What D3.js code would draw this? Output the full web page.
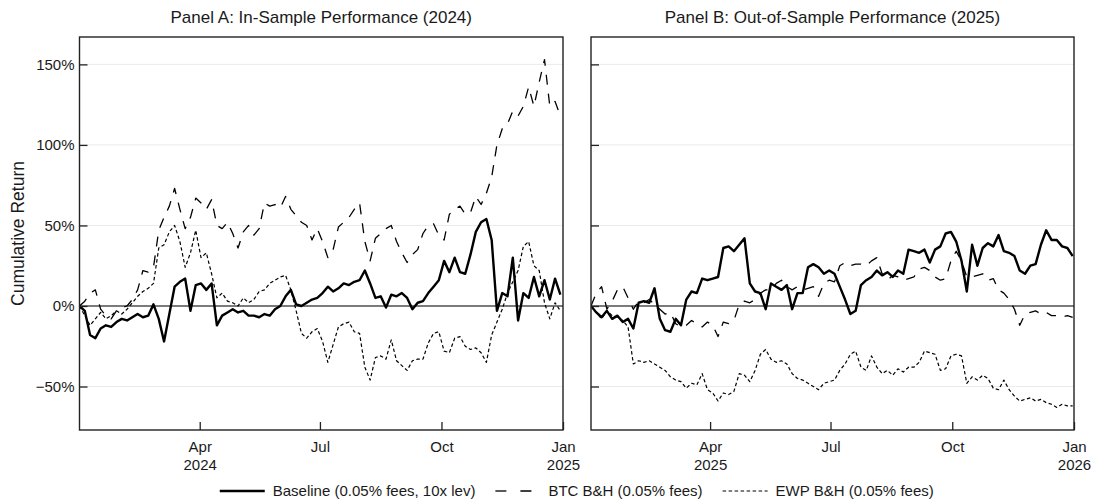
<!DOCTYPE html>
<html>
<head>
<meta charset="utf-8">
<script src="https://cdn.jsdelivr.net/npm/d3@7.9.0/dist/d3.min.js"></script>
<style>
  body { margin: 0; background: #fff; }
  svg text { font-family: "Liberation Sans", Arial, sans-serif; fill: #1a1a1a; }
</style>
</head>
<body>
<svg id="chart" width="1094" height="502"></svg>
<script>
// cumulative return (%) sampled every 4 days from Jan 1
const stepDays = 4;

const baseA = [0,-3,-18,-20,-14,-12,-13,-10,-8,-9,
  -7,-5,-7,-6,1,-8,-22,-5,12,15,
  17,-3,13,14,10,14,-12,-6,-4,-2,
  -4,-3,-6,-6,-7,-5,-6,-2,0,6,
  10,1,0,2,4,5,8,12,9,11,
  14,13,15,16,22,14,5,6,-1,7,
  6,8,5,-2,2,3,8,12,16,28,
  21,30,21,20,32,46,52,54,41,-3,
  8,6,30,-9,8,5,18,6,16,4,
  17,7];
const btcA = [0,3,8,10,-2,-6,-8,-3,-1,0,
  4,10,22,21,24,47,55,62,73,60,
  48,55,67,64,60,66,50,48,52,45,
  36,46,50,44,48,64,62,63,61,68,
  60,56,52,50,41,48,40,30,35,49,
  52,55,60,64,40,28,42,45,48,50,
  40,33,27,32,35,45,50,51,44,41,
  57,60,62,57,58,68,63,70,80,100,
  110,113,121,118,124,136,124,139,153,124,
  127,118];
const ewpA = [0,-6,-12,-8,-4,-8,-6,-3,-5,-2,
  2,6,9,11,14,36,38,46,50,40,
  24,33,47,30,33,20,5,8,3,2,
  0,5,2,4,9,10,14,16,18,19,
  10,-3,-17,-20,-16,-14,-22,-35,-24,-13,
  -11,-10,-16,-17,-38,-46,-32,-31,-33,-21,
  -34,-37,-40,-34,-33,-33,-23,-17,-16,-28,
  -29,-20,-19,-25,-27,-26,-29,-35,-18,-10,
  -2,8,15,22,37,40,25,22,2,-8,
  2,-3];

const baseB = [0,-4,-7,-3,-8,-6,-10,-8,-14,2,
  3,2,11,-8,-15,-16,-8,-12,4,9,
  8,17,16,17,18,36,37,34,38,42,
  14,9,8,-2,14,12,10,13,-2,8,
  8,24,26,24,20,22,20,12,4,-5,
  -3,13,16,18,22,19,21,18,22,20,
  35,34,33,35,27,35,37,45,46,40,
  28,9,38,25,36,39,37,44,34,33,
  31,22,20,25,26,38,47,41,41,37,
  36,31];
const btcB = [0,8,12,-2,3,10,12,5,-2,3,
  2,4,1,-2,-5,-4,-11,-13,-12,-9,
  -11,-13,-10,-12,-19,-10,-11,-9,1,3,
  2,4,8,10,10,14,16,12,10,12,
  10,11,12,6,14,16,15,25,27,25,
  26,26,25,28,30,20,16,19,18,16,
  17,18,23,24,22,18,16,17,28,34,
  28,18,18,19,20,16,17,10,8,4,
  -2,-12,-5,-4,-3,-5,-4,-6,-6,-7,
  -6,-7];
const ewpB = [0,-4,-8,-3,-6,-7,-9,-13,-36,-34,
  -35,-34,-36,-38,-40,-44,-46,-47,-51,-48,
  -49,-42,-52,-54,-59,-54,-55,-53,-42,-43,
  -47,-40,-30,-27,-33,-35,-34,-36,-42,-45,
  -46,-48,-50,-52,-48,-47,-46,-40,-36,-30,
  -28,-38,-40,-31,-38,-42,-40,-43,-39,-41,
  -38,-38,-35,-28,-29,-30,-40,-39,-31,-30,
  -31,-48,-44,-46,-43,-45,-51,-52,-46,-52,
  -56,-59,-58,-57,-59,-58,-60,-61,-63,-61,
  -62,-62];

const seriesNames = ['Baseline (0.05% fees, 10x lev)', 'BTC B&H (0.05% fees)', 'EWP B&H (0.05% fees)'];
const yTicks = [-50, 0, 50, 100, 150];
const panelTitles = ['Panel A: In-Sample Performance (2024)', 'Panel B: Out-of-Sample Performance (2025)'];
const panelYears = [2024, 2025];

// line styles per series
const styles = [
  { width: 2.4, dash: null },
  { width: 1.3, dash: '10,9' },
  { width: 1.2, dash: '3.5,2.5' }
];

const svg = d3.select('#chart');
const plotTop = 37, plotBottom = 430;
const panels = [
  { x0: 79.5, x1: 563, data: [baseA, btcA, ewpA], labels: true },
  { x0: 591, x1: 1074, data: [baseB, btcB, ewpB], labels: false }
];

const y = d3.scaleLinear().domain([-77, 167]).range([plotBottom, plotTop]);

panels.forEach((p, pi) => {
  const yr = panelYears[pi];
  const start = new Date(Date.UTC(yr, 0, 1));
  const end = new Date(Date.UTC(yr + 1, 0, 1));
  const x = d3.scaleUtc().domain([start, end]).range([p.x0, p.x1]);
  const g = svg.append('g');

  // gridlines
  g.selectAll('line.grid').data(yTicks).join('line')
    .attr('x1', p.x0).attr('x2', p.x1)
    .attr('y1', d => y(d)).attr('y2', d => y(d))
    .attr('stroke', '#ebebeb').attr('stroke-width', 1);

  // zero line
  g.append('line')
    .attr('x1', p.x0).attr('x2', p.x1)
    .attr('y1', y(0)).attr('y2', y(0))
    .attr('stroke', '#000').attr('stroke-width', 1.2);

  // clip
  const clipId = 'clip' + pi;
  svg.append('clipPath').attr('id', clipId).append('rect')
    .attr('x', p.x0).attr('y', plotTop).attr('width', p.x1 - p.x0).attr('height', plotBottom - plotTop);

  const line = d3.line()
    .x((d, i) => x(d3.utcDay.offset(start, i * stepDays)))
    .y(d => y(d));

  // draw EWP, BTC, then baseline on top
  [2, 1, 0].forEach(si => {
    g.append('path')
      .attr('clip-path', `url(#${clipId})`)
      .attr('d', line(p.data[si]))
      .attr('fill', 'none')
      .attr('stroke', '#000')
      .attr('stroke-width', styles[si].width)
      .attr('stroke-linejoin', 'round')
      .attr('stroke-dasharray', styles[si].dash);
  });

  // y axis (inward ticks)
  const yAxis = d3.axisLeft(y).tickValues(yTicks).tickSize(-8).tickPadding(5)
    .tickFormat(p.labels ? (d => d3.format('d')(d) + '%') : () => '');
  const ya = g.append('g').attr('transform', `translate(${p.x0},0)`).call(yAxis);
  ya.select('.domain').remove();
  ya.selectAll('.tick line').attr('stroke', '#222').attr('stroke-width', 1.3);
  ya.selectAll('.tick text').attr('font-size', 15).attr('fill', '#1a1a1a');

  // x axis
  const xTicks = [3, 6, 9, 12].map(m => new Date(Date.UTC(yr, m, 1)));
  const xAxis = d3.axisBottom(x).tickValues(xTicks).tickSize(-8).tickFormat('');
  const xa = g.append('g').attr('transform', `translate(0,${plotBottom})`).call(xAxis);
  xa.select('.domain').remove();
  xa.selectAll('.tick line').attr('stroke', '#222').attr('stroke-width', 1.3);
  xa.selectAll('.tick text').remove();
  xa.selectAll('.tick').each(function(d) {
    const t = d3.select(this).append('text')
      .attr('text-anchor', 'middle').attr('font-size', 15).attr('fill', '#1a1a1a');
    t.append('tspan').attr('x', 0).attr('y', 22).text(d3.utcFormat('%b')(d));
    if (d.getUTCMonth() === 3 || d.getUTCMonth() === 0)
      t.append('tspan').attr('x', 0).attr('y', 40).text(d.getUTCFullYear());
  });

  // box
  g.append('rect')
    .attr('x', p.x0).attr('y', plotTop).attr('width', p.x1 - p.x0).attr('height', plotBottom - plotTop)
    .attr('fill', 'none').attr('stroke', '#222').attr('stroke-width', 1.4);

  // title
  svg.append('text')
    .attr('x', (p.x0 + p.x1) / 2).attr('y', 23)
    .attr('text-anchor', 'middle').attr('font-size', 17)
    .text(panelTitles[pi]);
});

// y axis title
svg.append('text')
  .attr('transform', `translate(24,${(plotTop + plotBottom) / 2}) rotate(-90)`)
  .attr('text-anchor', 'middle').attr('font-size', 17.5)
  .text('Cumulative Return');

// legend
const legend = svg.append('g');
const keyW = 45, keyGap = 8, itemGap = 20, legY = 491;
let cx = 0;
seriesNames.forEach((name, si) => {
  const item = legend.append('g').attr('transform', `translate(${cx},0)`);
  item.append('line')
    .attr('x1', 0).attr('x2', keyW).attr('y1', legY).attr('y2', legY)
    .attr('stroke', '#000').attr('stroke-width', styles[si].width)
    .attr('stroke-dasharray', si === 1 ? '11,14' : styles[si].dash);
  const t = item.append('text')
    .attr('x', keyW + keyGap).attr('y', legY + 5).attr('font-size', 15)
    .text(name);
  cx += keyW + keyGap + t.node().getComputedTextLength() + itemGap;
});
const legW = cx - itemGap;
legend.attr('transform', `translate(${(79.5 + 1074) / 2 - legW / 2},0)`);
</script>
</body>
</html>
